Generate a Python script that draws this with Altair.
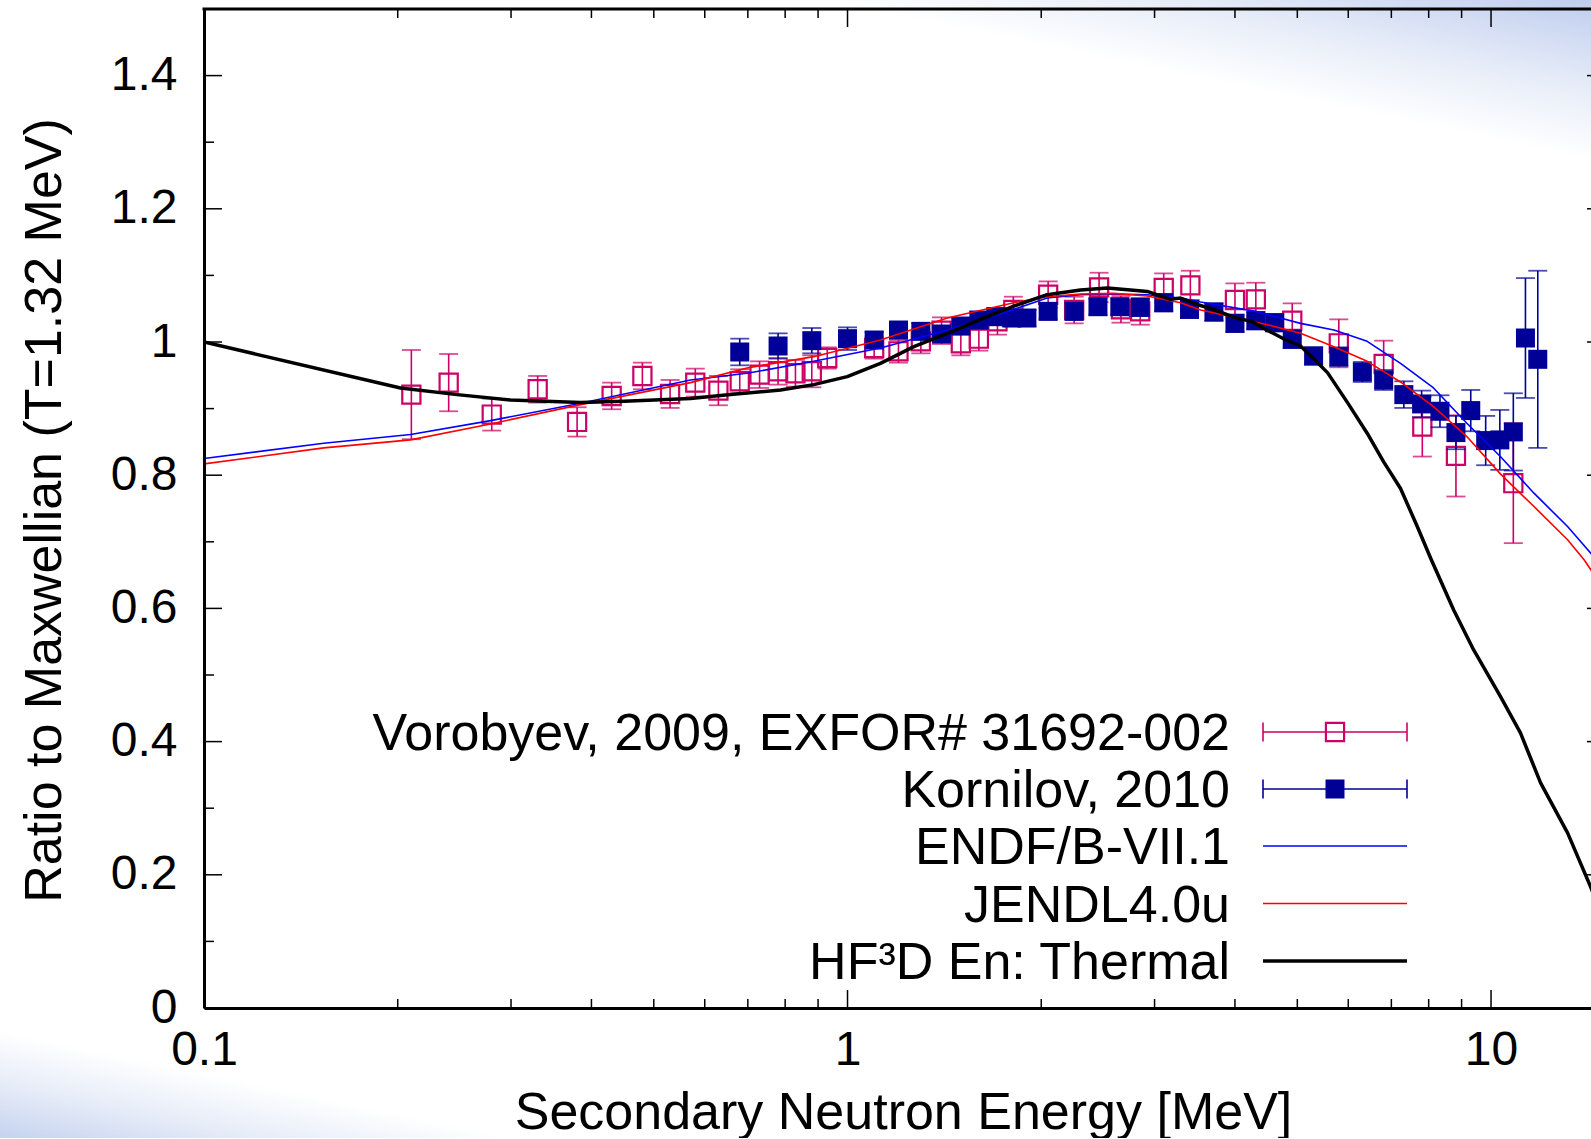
import altair as alt
import pandas as pd

# ---------------- data ----------------
vor_E = [0.21, 0.24, 0.28, 0.33, 0.38, 0.43, 0.48, 0.53, 0.58, 0.63, 0.68, 0.73, 0.78,
         0.83, 0.88, 0.93, 1.10, 1.20, 1.30, 1.40, 1.50, 1.60, 1.71, 1.81, 2.05, 2.25,
         2.46, 2.66, 2.85, 3.10, 3.41, 4.00, 4.31, 4.91, 5.80, 6.81, 7.82, 8.82, 10.83]
vor_R = [0.921, 0.939, 0.891, 0.929, 0.880, 0.919, 0.949, 0.922, 0.939, 0.927, 0.941, 0.951, 0.956,
         0.953, 0.956, 0.976, 0.991, 0.986, 1.001, 1.017, 0.998, 1.005, 1.031, 1.048, 1.071, 1.048,
         1.082, 1.049, 1.046, 1.081, 1.085, 1.063, 1.064, 1.032, 0.998, 0.967, 0.873, 0.829, 0.788]
vor_err = [0.067, 0.043, 0.024, 0.020, 0.022, 0.020, 0.020, 0.021, 0.021, 0.022, 0.018, 0.020, 0.020,
           0.020, 0.024, 0.016, 0.016, 0.017, 0.018, 0.020, 0.018, 0.018, 0.020, 0.020, 0.020, 0.020,
           0.022, 0.020, 0.020, 0.022, 0.022, 0.025, 0.025, 0.026, 0.036, 0.035, 0.045, 0.061, 0.090]

kor_E = [0.68, 0.78, 0.88, 1.00, 1.10, 1.20, 1.30, 1.40, 1.50, 1.60, 1.70, 1.80, 1.90, 2.05,
         2.25, 2.45, 2.65, 2.85, 3.10, 3.40, 3.71, 4.00, 4.31, 4.61, 4.91, 5.30, 5.80, 6.31,
         6.81, 7.32, 7.80, 8.33, 8.82, 9.30, 9.81, 10.32, 10.83, 11.31, 11.82]
kor_R = [0.985, 0.994, 1.002, 1.005, 1.003, 1.018, 1.016, 1.012, 1.024, 1.033, 1.038, 1.036, 1.036, 1.046,
         1.046, 1.053, 1.053, 1.052, 1.059, 1.049, 1.045, 1.028, 1.032, 1.029, 1.004, 0.979, 0.978, 0.955,
         0.943, 0.921, 0.907, 0.896, 0.864, 0.897, 0.852, 0.853, 0.865, 1.006, 0.974]
kor_err = [0.020, 0.019, 0.019, 0.017, 0.012, 0.012, 0.012, 0.012, 0.012, 0.012, 0.012, 0.012, 0.012, 0.012,
           0.012, 0.012, 0.012, 0.013, 0.013, 0.013, 0.013, 0.013, 0.013, 0.013, 0.013, 0.013, 0.014, 0.015,
           0.015, 0.020, 0.020, 0.024, 0.025, 0.031, 0.037, 0.045, 0.058, 0.090, 0.133]

endf_E = [0.1, 0.1535, 0.2094, 0.2788, 0.3847, 0.5702, 0.698, 0.886, 1.125, 1.429, 1.813, 2.043, 2.302,
          2.593, 2.922, 3.292, 3.537, 4.306, 5.058, 5.70, 6.42, 7.234, 8.14, 9.17, 10.34, 11.66, 13.15, 14.29, 15.0]
endf_R = [0.825, 0.848, 0.861, 0.882, 0.908, 0.943, 0.953, 0.971, 0.991, 1.018, 1.049, 1.066, 1.071,
          1.072, 1.071, 1.066, 1.060, 1.046, 1.028, 1.018, 1.001, 0.968, 0.931, 0.878, 0.828, 0.773, 0.723, 0.683, 0.658]

jendl_E = [0.1, 0.1535, 0.2094, 0.2788, 0.3847, 0.5702, 0.698, 0.886, 1.125, 1.429, 1.813, 2.043, 2.302,
           2.593, 2.922, 3.292, 3.537, 4.495, 5.058, 5.70, 6.42, 7.234, 8.14, 9.17, 10.34, 11.66, 13.15, 13.95, 15.0]
jendl_R = [0.817, 0.841, 0.853, 0.877, 0.906, 0.939, 0.961, 0.978, 1.003, 1.036, 1.059, 1.068, 1.072,
           1.073, 1.069, 1.059, 1.048, 1.026, 1.013, 0.993, 0.971, 0.940, 0.903, 0.858, 0.802, 0.753, 0.703, 0.673, 0.628]

hf_E = [0.1, 0.202, 0.2474, 0.2995, 0.3847, 0.4493, 0.5702, 0.658, 0.787, 0.886, 0.999, 1.125, 1.268,
        1.429, 1.609, 1.813, 2.043, 2.302, 2.533, 2.753, 2.922, 3.177, 3.292, 3.505, 3.703, 4.02, 4.245,
        4.485, 4.802, 5.058, 5.30, 5.57, 5.984, 6.42, 6.81, 7.234, 7.68, 8.06, 8.745, 9.393, 10.34,
        11.11, 11.94, 13.15, 14.28, 15.0]
hf_R = [1.000, 0.931, 0.921, 0.913, 0.909, 0.911, 0.915, 0.921, 0.928, 0.936, 0.948, 0.968, 0.993,
        1.013, 1.034, 1.054, 1.071, 1.078, 1.081, 1.078, 1.076, 1.064, 1.066, 1.056, 1.049, 1.036, 1.031,
        1.018, 1.003, 0.994, 0.975, 0.954, 0.909, 0.863, 0.820, 0.780, 0.723, 0.675, 0.598, 0.538, 0.468,
        0.413, 0.338, 0.263, 0.182, 0.130]

y_major = [0, 0.2, 0.4, 0.6, 0.8, 1.0, 1.2, 1.4]
y_minor = [0.1, 0.3, 0.5, 0.7, 0.9, 1.1, 1.3]
x_major = [0.1, 1, 10]
x_minor = [0.2, 0.3, 0.4, 0.5, 0.6, 0.7, 0.8, 0.9, 2, 3, 4, 5, 6, 7, 8, 9]

legend_labels = ["Vorobyev, 2009, EXFOR# 31692-002", "Kornilov, 2010", "ENDF/B-VII.1",
                 "JENDL4.0u", "HF\u00b3D En: Thermal"]

# ---------------- styling ----------------
FONT = "Liberation Sans"
MAG = "#cc0066"
NAVY = "#000096"
BLUE = "#0000ff"
RED = "#ff0000"
W, H = 1387, 999

xs = alt.Scale(type="log", domain=[0.1, 14.3], nice=False)
ys = alt.Scale(domain=[0, 1.5], nice=False, zero=False)

vor = pd.DataFrame({"E": vor_E, "R": vor_R, "err": vor_err})
vor["lo"] = vor["R"] - vor["err"]
vor["hi"] = vor["R"] + vor["err"]
kor = pd.DataFrame({"E": kor_E, "R": kor_R, "err": kor_err})
kor["lo"] = kor["R"] - kor["err"]
kor["hi"] = kor["R"] + kor["err"]
endf = pd.DataFrame({"E": endf_E, "R": endf_R})
jendl = pd.DataFrame({"E": jendl_E, "R": jendl_R})
hf = pd.DataFrame({"E": hf_E, "R": hf_R})
one = pd.DataFrame({"k": [0]})

xaxis = alt.Axis(values=x_major, format="~g", ticks=False, grid=False, domain=True, zindex=1,
                 domainColor="black", domainWidth=3, labelFontSize=48, labelPadding=18,
                 labelFlush=False, labelOverlap=False, labelColor="black", labelFont=FONT,
                 title="Secondary Neutron Energy [MeV]", titleFontSize=52, titleFontWeight="normal",
                 titleFont=FONT, titleColor="black", titleX=699, titleY=120,
                 titleAlign="center", titleBaseline="alphabetic")
yaxis = alt.Axis(values=y_major, format="~g", ticks=False, grid=False, domain=True, zindex=1,
                 domainColor="black", domainWidth=3, labelFontSize=48, labelPadding=27,
                 labelFlush=False, labelOverlap=False, labelColor="black", labelFont=FONT,
                 title="Ratio to Maxwellian (T=1.32 MeV)", titleFontSize=52, titleFontWeight="normal",
                 titleFont=FONT, titleColor="black", titleX=-144, titleY=501, titleAngle=270,
                 titleAlign="center", titleBaseline="alphabetic")


def X(field="E"):
    return alt.X(f"{field}:Q", scale=xs, axis=xaxis)


def Y(field="R"):
    return alt.Y(f"{field}:Q", scale=ys, axis=yaxis)


layers = []

# background gradients (slide decoration)
grad_stops = [alt.GradientStop(offset=0, color="#ffffff"),
              alt.GradientStop(offset=0.45, color="#e6ecf8"),
              alt.GradientStop(offset=1, color="#bfcdee")]
layers.append(alt.Chart(one).mark_rect(clip=False, color=alt.Gradient(
    gradient="linear", stops=grad_stops, x1=0.7755, y1=0.4103, x2=1, y2=0)).encode(
    x=alt.value(596), x2=alt.value(W), y=alt.value(-9), y2=alt.value(291)))
layers.append(alt.Chart(one).mark_rect(clip=False, color=alt.Gradient(
    gradient="linear", stops=grad_stops, x1=0.4226, y1=0.5297, x2=0, y2=1)).encode(
    x=alt.value(-204), x2=alt.value(396), y=alt.value(1000), y2=alt.value(1140)))

# Vorobyev error bars and open squares
layers.append(alt.Chart(vor).mark_rule(color=MAG, strokeWidth=1.6).encode(
    x=X(), y=Y("lo"), y2="hi:Q"))
for f in ["lo", "hi"]:
    layers.append(alt.Chart(vor).mark_tick(color=MAG, orient="horizontal", size=19, thickness=1.8).encode(
        x=X(), y=Y(f)))
layers.append(alt.Chart(vor).mark_point(shape="square", size=330, filled=False, color=MAG,
                                        strokeWidth=2.2, opacity=1).encode(x=X(), y=Y()))

# Kornilov error bars and filled squares
layers.append(alt.Chart(kor).mark_rule(color=NAVY, strokeWidth=1.6).encode(
    x=X(), y=Y("lo"), y2="hi:Q"))
for f in ["lo", "hi"]:
    layers.append(alt.Chart(kor).mark_tick(color=NAVY, orient="horizontal", size=19, thickness=1.8).encode(
        x=X(), y=Y(f)))
layers.append(alt.Chart(kor).mark_point(shape="square", size=361, filled=True, color=NAVY,
                                        opacity=1).encode(x=X(), y=Y()))

# evaluated curves
for df, col, sw in [(endf, BLUE, 1.6), (jendl, RED, 1.6), (hf, "black", 3.5)]:
    layers.append(alt.Chart(df).mark_line(color=col, strokeWidth=sw, clip=True,
                                          strokeJoin="round").encode(x=X(), y=Y()))

# frame top line
layers.append(alt.Chart(one).mark_rule(color="black", strokeWidth=3, strokeCap="square").encode(
    x=alt.value(0), x2=alt.value(W), y=alt.value(0)))

# inward ticks
ymaj = pd.DataFrame({"R": y_major})
ymin = pd.DataFrame({"R": y_minor})
xmaj = pd.DataFrame({"E": x_major})
xmin = pd.DataFrame({"E": x_minor})
for df, ln in [(ymaj, 18), (ymin, 10)]:
    layers.append(alt.Chart(df).mark_rule(color="black", strokeWidth=1.5).encode(
        y=Y(), x=alt.value(0), x2=alt.value(ln)))
layers.append(alt.Chart(ymaj).mark_rule(color="black", strokeWidth=1.5).encode(
    y=Y(), x=alt.value(W - 4), x2=alt.value(W)))
for df, ln in [(xmaj, 18), (xmin, 9)]:
    layers.append(alt.Chart(df).mark_rule(color="black", strokeWidth=1.5).encode(
        x=X(), y=alt.value(H), y2=alt.value(H - ln)))
    layers.append(alt.Chart(df).mark_rule(color="black", strokeWidth=1.5).encode(
        x=X(), y=alt.value(0), y2=alt.value(ln)))

# legend
rows_y = [723, 780, 837, 894.5, 952]
lx0, lx1, lxc, ltx = 1059, 1203, 1131, 1026
for i, lab in enumerate(legend_labels):
    layers.append(alt.Chart(one).mark_text(text=lab, align="right", baseline="alphabetic",
                                           fontSize=52, font=FONT, color="black").encode(
        x=alt.value(ltx), y=alt.value(rows_y[i] + 18)))
for i, (col, sw) in enumerate([(MAG, 1.6), (NAVY, 1.6), (BLUE, 1.6), (RED, 1.6), ("black", 3.5)]):
    layers.append(alt.Chart(one).mark_rule(color=col, strokeWidth=sw).encode(
        x=alt.value(lx0), x2=alt.value(lx1), y=alt.value(rows_y[i])))
for i, col in enumerate([MAG, NAVY]):
    for xx in [lx0, lx1]:
        layers.append(alt.Chart(one).mark_rule(color=col, strokeWidth=1.6).encode(
            x=alt.value(xx), y=alt.value(rows_y[i] - 9.5), y2=alt.value(rows_y[i] + 9.5)))
layers.append(alt.Chart(one).mark_point(shape="square", size=330, filled=False, color=MAG,
                                        strokeWidth=2.2, opacity=1).encode(
    x=alt.value(lxc), y=alt.value(rows_y[0])))
layers.append(alt.Chart(one).mark_point(shape="square", size=361, filled=True, color=NAVY,
                                        opacity=1).encode(
    x=alt.value(lxc), y=alt.value(rows_y[1])))

chart = alt.layer(*layers).properties(
    width=W, height=H,
    autosize=alt.AutoSizeParams(type="none"),
    padding={"left": 204, "top": 9, "right": 0, "bottom": 130},
    background="white",
).configure(font=FONT).configure_view(stroke=None)

chart.save("out.html", embed_options={"renderer": "svg", "actions": False})
